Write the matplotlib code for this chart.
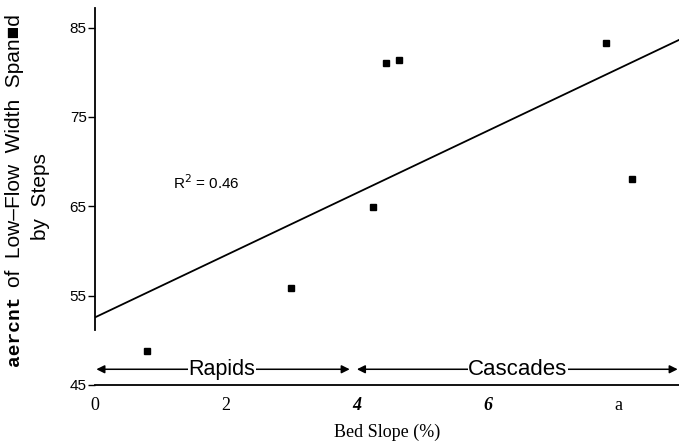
import matplotlib.pyplot as plt
import numpy as np

# bed slope (%) and percent of low-flow width spanned by steps
slope = [0.8, 3.0, 4.25, 4.45, 4.65, 7.8, 8.2]
spanned = [48.8, 55.9, 64.9, 81.1, 81.4, 83.3, 68.0]

x_ticks = [0, 2, 4, 6, 8]
x_labels = ['0', '2', '4', '6', 'a']
y_ticks = [45, 55, 65, 75, 85]

# regression line
m, b = np.polyfit(slope, spanned, 1)
xl = np.array([0, 8.92])

fig = plt.figure(figsize=(6.79, 4.46), dpi=100)
ax = fig.add_axes([0.14, 0.137, 0.86, 0.845])

ax.plot(xl, m * xl + b, color='black', lw=1.3)
ax.plot(slope, spanned, 's', color='black', ms=4.5, mfc='black')

ax.set_xlim(0, 8.92)
ax.set_ylim(45, 87.2)

ax.spines['top'].set_visible(False)
ax.spines['right'].set_visible(False)
ax.spines['left'].set_bounds(51.2, 87.2)
ax.spines['left'].set_linewidth(1.3)
ax.spines['bottom'].set_linewidth(1.3)

ax.set_yticks(y_ticks)
ax.set_yticklabels([str(v) for v in y_ticks], family='Liberation Sans', fontsize=11)
ax.tick_params(axis='y', length=5, width=1, direction='out', pad=1)

ax.set_xticks(x_ticks)
ax.set_xticklabels(x_labels, family='Liberation Serif', fontsize=13)
for lab in ax.get_xticklabels()[2:4]:
    lab.set_fontweight('bold')
    lab.set_fontstyle('italic')
ax.tick_params(axis='x', length=0, pad=9)

ax.set_xlabel('Bed Slope (%)', family='Liberation Serif', fontsize=13, labelpad=7)

# y label, drawn in pieces like the scanned original
fig.text(15 / 679, 1 - 366 / 446, 'aercnt', rotation=90, ha='center', va='bottom',
         family='Liberation Mono', fontsize=14, fontweight='bold')
fig.text(15 / 679, 1 - 287 / 446, 'of  Low\u2013Flow  Width  Span\u25a0d', rotation=90,
         ha='center', va='bottom', family='Liberation Sans', fontsize=15)
fig.text(40 / 679, 1 - 197 / 446, 'by  Steps', rotation=90, ha='center', va='center',
         family='Liberation Sans', fontsize=15)

ax.text(1.19, 67.7, 'R$^2$ = 0.46', family='Liberation Sans', fontsize=11,
        va='center', ha='left')

# regime arrows
ya = 46.75
arr = dict(arrowstyle='-|>', color='black', lw=1.1, mutation_scale=12, shrinkA=0, shrinkB=0)
ax.annotate('', xy=(0.02, ya), xytext=(1.94, ya), arrowprops=arr)
ax.annotate('', xy=(3.89, ya), xytext=(1.94, ya), arrowprops=arr)
ax.annotate('', xy=(4.0, ya), xytext=(6.46, ya), arrowprops=arr)
ax.annotate('', xy=(8.9, ya), xytext=(6.46, ya), arrowprops=arr)
box = dict(facecolor='white', edgecolor='none', pad=0.5)
ax.text(1.94, ya, 'Rapids', ha='center', va='center', fontsize=15.5,
        family='Liberation Sans', bbox=box)
ax.text(6.46, ya, 'Cascades', ha='center', va='center', fontsize=16,
        family='Liberation Sans', bbox=box)

fig.savefig('out.png', dpi=100)
